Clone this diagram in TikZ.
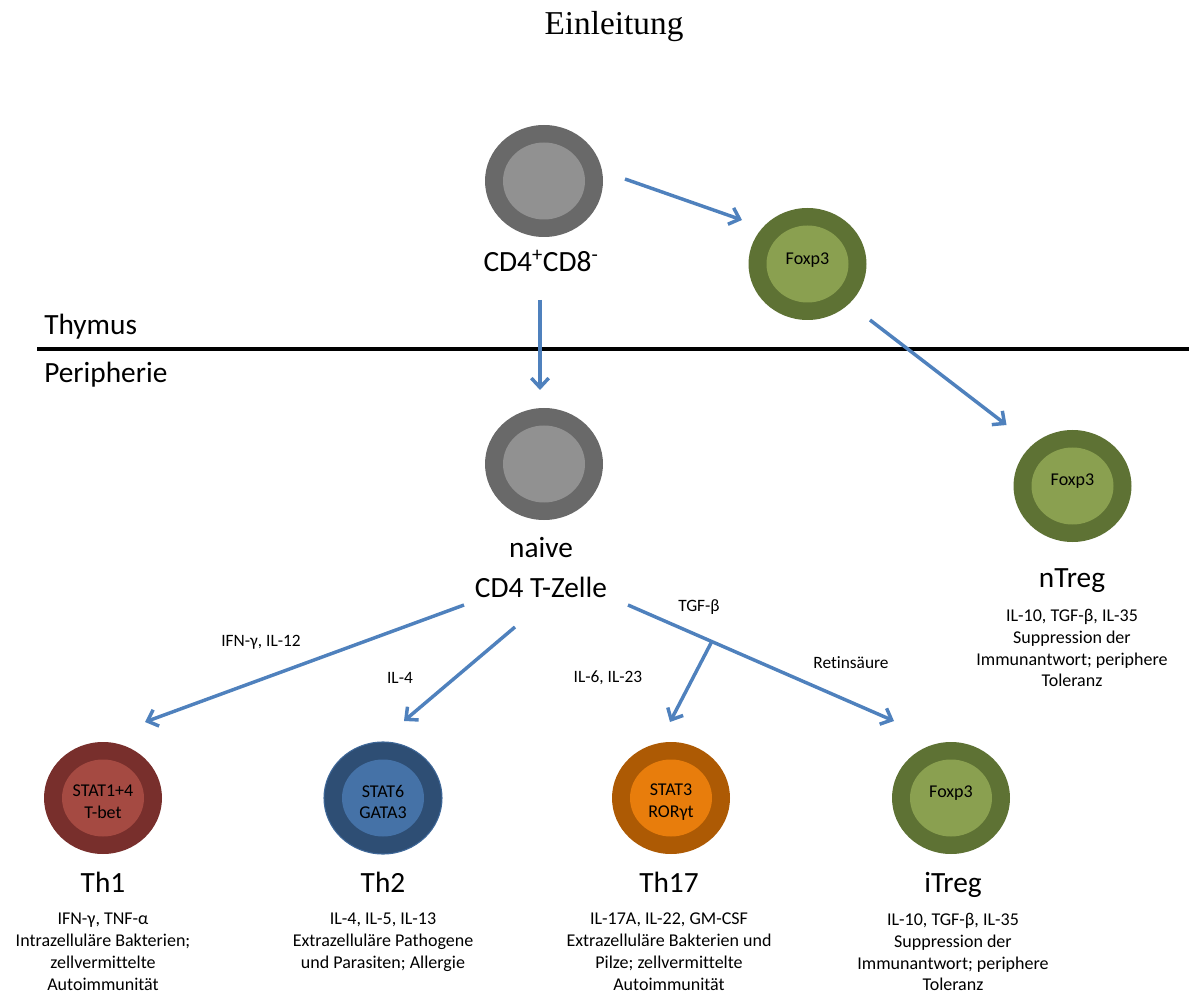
\documentclass[tikz,border=0pt]{standalone}
\usepackage{fontspec}
\setmainfont{Carlito}[Ligatures={NoCommon}]
\newfontfamily\titlefont{Liberation Serif}
\usetikzlibrary{shapes.geometric,arrows.meta,calc}
\definecolor{grayout}{RGB}{105,105,105}
\definecolor{grayin}{RGB}{145,145,145}
\definecolor{greenout}{RGB}{94,114,52}
\definecolor{greenin}{RGB}{138,160,80}
\definecolor{redout}{RGB}{120,47,44}
\definecolor{redin}{RGB}{165,74,66}
\definecolor{blueout}{RGB}{46,78,116}
\definecolor{bluein}{RGB}{69,114,167}
\definecolor{orangeout}{RGB}{173,90,4}
\definecolor{orangein}{RGB}{232,125,12}
\definecolor{arrowblue}{RGB}{79,129,189}
\tikzset{
  cellout/.style={ellipse, minimum width=88.5pt, minimum height=84pt, inner sep=0pt, draw=none},
  cellin/.style={ellipse, minimum width=61.5pt, minimum height=57.75pt, inner sep=0pt, draw=none},
  celltext/.style={font=\fontsize{13.5}{16.3}\selectfont, align=center, inner sep=0pt},
  biglabel/.style={font=\fontsize{22}{30}\selectfont, anchor=base, inner sep=0pt},
  desc/.style={font=\fontsize{13.5}{16.3}\selectfont, align=center, anchor=north, inner sep=0pt},
  arrlabel/.style={font=\fontsize{13}{16}\selectfont, inner sep=0pt},
  arr/.style={draw=arrowblue, line width=2.6pt, -{Straight Barb[length=7pt,width=13pt]}},
}
\begin{document}
\begin{tikzpicture}[x=0.75pt,y=-0.75pt]
\useasboundingbox (0,0) rectangle (1189,998);
% title
\node[font=\titlefont\fontsize{25}{30}\selectfont, anchor=base, inner sep=0pt] (title) at (614,35) {Einleitung};
% Thymus / Peripherie
\node[font=\fontsize{22}{30}\selectfont, anchor=base west, inner sep=0pt] (thymus) at (44,335) {Thymus};
\node[font=\fontsize{22}{30}\selectfont, anchor=base west, inner sep=0pt] (peri) at (44,383) {Peripherie};
\coordinate (lineL) at (37,349);
\coordinate (lineR) at (1189,349);
\draw[line width=2.7pt] (lineL) -- (lineR);

% CD4+CD8- cell
\node[cellout, fill=grayout] (cd4) at (544,181) {};
\node[cellin, fill=grayin] (cd4i) at (cd4.center) {};
\node[biglabel] (cd4l) at (541,272) {CD4\textsuperscript{+}CD8\textsuperscript{-}};

% thymic Foxp3 cell
\node[cellout, fill=greenout] (foxT) at (807.5,264) {};
\node[cellin, fill=greenin] (foxTi) at (foxT.center) {};
\node[celltext] (foxTt) at ($(foxT.center)+(0,-4)$) {Foxp3};

% naive cell
\node[cellout, fill=grayout] (naive) at (544,464) {};
\node[cellin, fill=grayin] (naivei) at (naive.center) {};
\node[biglabel] (naivel1) at (541,557) {naive};
\node[biglabel] (naivel2) at (541,597) {CD4 T-Zelle};

% nTreg
\node[cellout, fill=greenout] (ntreg) at (1072.5,486) {};
\node[cellin, fill=greenin] (ntregi) at (ntreg.center) {};
\node[celltext] (ntregt) at ($(ntreg.center)+(0,-5)$) {Foxp3};
\node[biglabel] (ntregl) at (1072,587) {nTreg};
\node[desc] (ntregd) at (1072,609) {IL-10, TGF-β, IL-35\\Suppression der\\Immunantwort; periphere\\Toleranz};

% Th1
\node[cellout, fill=redout] (th1) at (103,798) {};
\node[cellin, fill=redin] (th1i) at (th1.center) {};
\node[celltext] (th1t) at ($(th1.center)+(0,4)$) {STAT1+4\\T-bet};
\node[biglabel] (th1l) at (103,892) {Th1};
\node[desc] (th1d) at (103,913) {IFN-γ, TNF-α\\Intrazelluläre Bakterien;\\zellvermittelte\\Autoimmunität};

% Th2
\node[cellout, fill=blueout, draw=bluein!70!blueout, line width=0.8pt] (th2) at (383,798) {};
\node[cellin, fill=bluein] (th2i) at (th2.center) {};
\node[celltext] (th2t) at ($(th2.center)+(0,4)$) {STAT6\\GATA3};
\node[biglabel] (th2l) at (383,892) {Th2};
\node[desc] (th2d) at (383,913) {IL-4, IL-5, IL-13\\Extrazelluläre Pathogene\\und Parasiten; Allergie};

% Th17
\node[cellout, fill=orangeout] (th17) at (671,798) {};
\node[cellin, fill=orangein] (th17i) at (th17.center) {};
\node[celltext] (th17t) at ($(th17.center)+(0,4)$) {STAT3\\RORγt};
\node[biglabel] (th17l) at (669,892) {Th17};
\node[desc] (th17d) at (669,913) {IL-17A, IL-22, GM-CSF\\Extrazelluläre Bakterien und\\Pilze; zellvermittelte\\Autoimmunität};

% iTreg
\node[cellout, fill=greenout] (itreg) at (951,798) {};
\node[cellin, fill=greenin] (itregi) at (itreg.center) {};
\node[celltext] (itregt) at ($(itreg.center)+(0,-5)$) {Foxp3};
\node[biglabel] (itregl) at (953,892) {iTreg};
\node[desc] (itregd) at (953,913) {IL-10, TGF-β, IL-35\\Suppression der\\Immunantwort; periphere\\Toleranz};

% arrows
\draw[arr] ([shift={(81,-2)}]cd4.center) -- ([shift={(-65.5,-44)}]foxT.center);
\draw[arr] ([shift={(-4,119)}]cd4.center) -- ([shift={(-4,-74)}]naive.center);
\draw[arr] ([shift={(62.5,56)}]foxT.center) -- ([shift={(-66,-61)}]ntreg.center);
\draw[arr] ([shift={(-80,141)}]naive.center) -- ([shift={(42,-76)}]th1.center);
\draw[arr] ([shift={(-29,163)}]naive.center) -- ([shift={(21,-77)}]th2.center);
\draw[arr] ([shift={(84,141)}]naive.center) -- coordinate[pos=0.315] (br) ([shift={(-57,-77)}]itreg.center);
\draw[arr] (br) -- ([shift={(-1,-76)}]th17.center);

% arrow labels
\node[arrlabel] (l1) at (261,642) {IFN-γ, IL-12};
\node[arrlabel] (l2) at (400,678) {IL-4};
\node[arrlabel] (l3) at (699,607) {TGF-β};
\node[arrlabel] (l4) at (608,678) {IL-6, IL-23};
\node[arrlabel] (l5) at (851,663) {Retinsäure};
\end{tikzpicture}
\end{document}
